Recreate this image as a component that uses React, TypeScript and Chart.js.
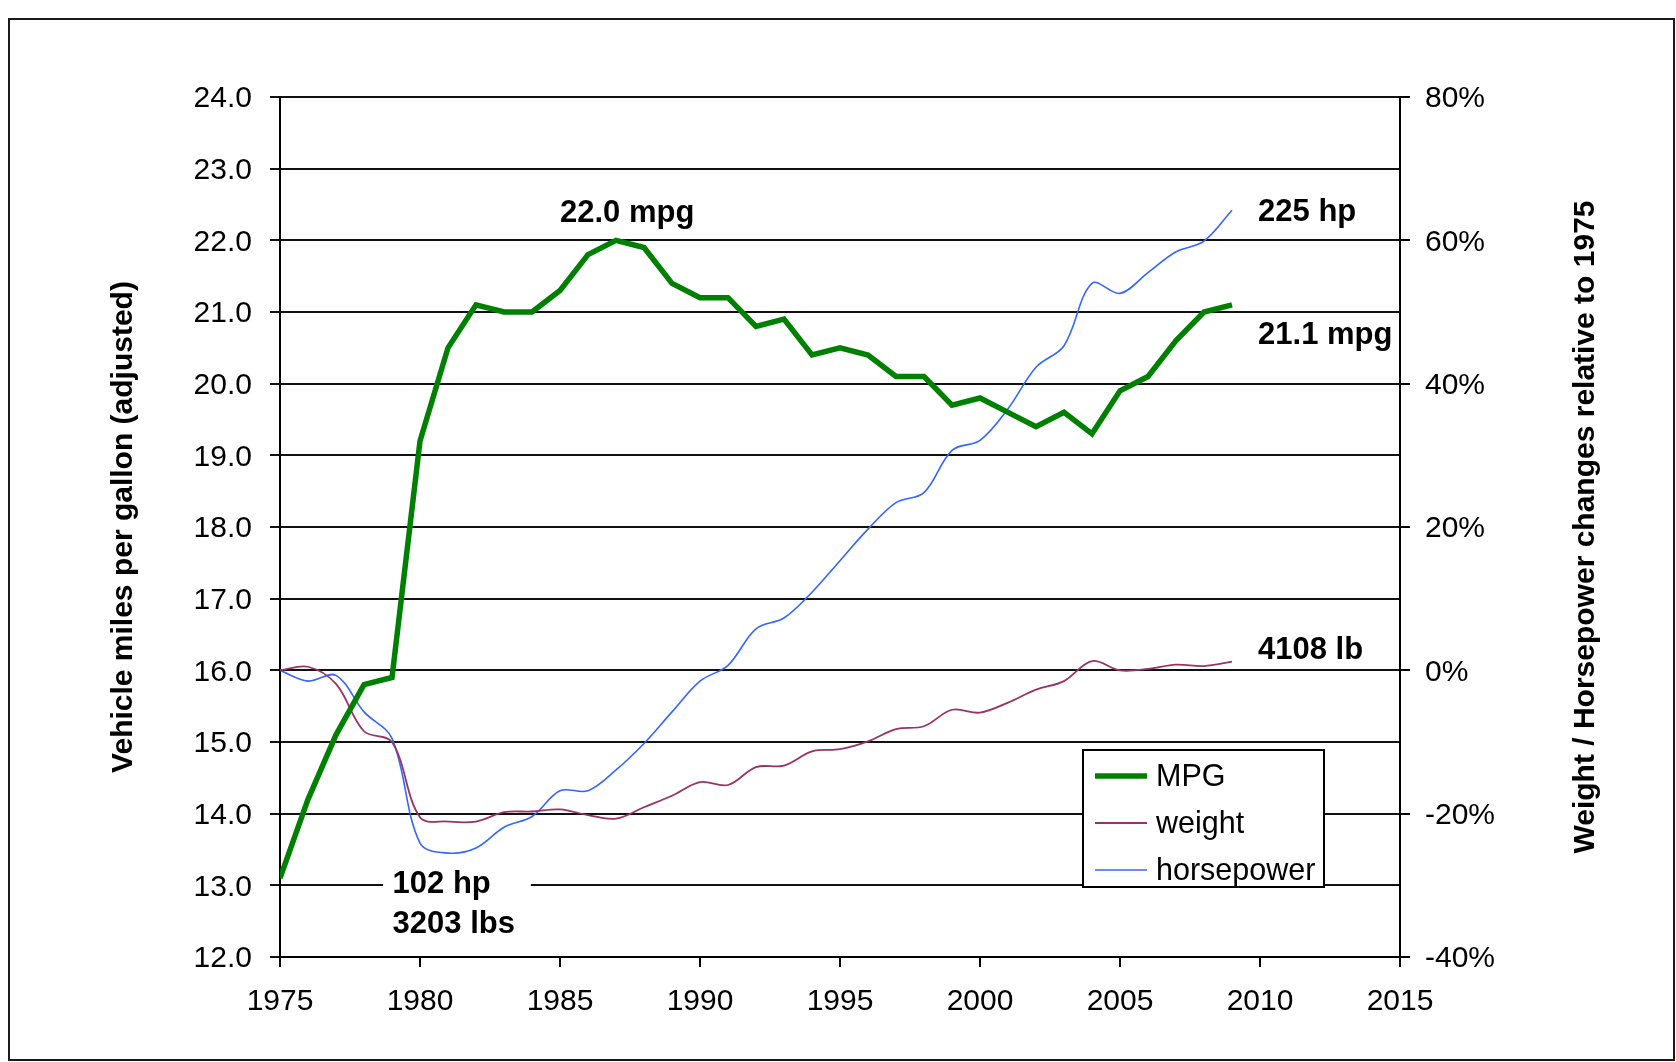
import React, { useEffect, useRef } from "react";
import { Chart, registerables } from "chart.js";

Chart.register(...registerables);

const FONT = "'Liberation Sans', Arial, Helvetica, sans-serif";

// Model years
const years = [
  1975, 1976, 1977, 1978, 1979, 1980, 1981, 1982, 1983, 1984,
  1985, 1986, 1987, 1988, 1989, 1990, 1991, 1992, 1993, 1994,
  1995, 1996, 1997, 1998, 1999, 2000, 2001, 2002, 2003, 2004,
  2005, 2006, 2007, 2008, 2009,
];

// Vehicle miles per gallon (adjusted) - left axis
const mpg = [
  13.1, 14.2, 15.1, 15.8, 15.9, 19.2, 20.5, 21.1, 21.0, 21.0,
  21.3, 21.8, 22.0, 21.9, 21.4, 21.2, 21.2, 20.8, 20.9, 20.4,
  20.5, 20.4, 20.1, 20.1, 19.7, 19.8, 19.6, 19.4, 19.6, 19.3,
  19.9, 20.1, 20.6, 21.0, 21.1,
];

// Weight change relative to 1975 (%) - right axis
const weightPct = [
  0.0, 0.5, -1.9, -8.5, -10.0, -20.5, -21.1, -21.1, -19.8, -19.7,
  -19.4, -20.2, -20.7, -19.1, -17.5, -15.6, -16.0, -13.5, -13.3, -11.3,
  -11.0, -9.9, -8.2, -7.8, -5.5, -5.9, -4.5, -2.7, -1.5, 1.3,
  0.0, 0.2, 0.8, 0.6, 1.2,
];

// Horsepower change relative to 1975 (%) - right axis
const hpPct = [
  0.0, -1.5, -0.7, -5.8, -9.5, -24.1, -25.5, -24.8, -21.9, -20.4,
  -16.8, -16.8, -13.9, -10.2, -5.8, -1.5, 0.7, 5.8, 7.3, 10.9,
  15.3, 19.7, 23.4, 24.8, 30.7, 32.1, 36.5, 42.3, 45.3, 54.0,
  52.6, 55.5, 58.4, 59.9, 64.2,
];

const seriesLabels = ["MPG", "weight", "horsepower"];
const seriesColors = ["#008000", "#993366", "#3366FF"];
const seriesWidths = [5.5, 1.8, 1.6];

const xRange = [1975, 2015];
const mpgRange = [12, 24];
const pctRange = [-40, 80];

const leftTitle = "Vehicle miles per gallon (adjusted)";
const rightTitle = "Weight / Horsepower changes relative to 1975";

// Callout texts anchored in data space (year, mpg-scale value)
const callouts = [
  { text: "22.0 mpg", x: 1985.0, y: 22.38 },
  { text: "225 hp", x: 2009.93, y: 22.385 },
  { text: "21.1 mpg", x: 2009.93, y: 20.675 },
  { text: "4108 lb", x: 2009.93, y: 16.275 },
];
const baseCallout = [
  { text: "102 hp", x: 1979.02, y: 13.01 },
  { text: "3203 lbs", x: 1979.02, y: 12.45 },
];
const baseBox = { x0: 1978.68, x1: 1983.96, y0: 13.32, y1: 12.12 };

// put label on a second line of a tiny line-height so it sits ~2px lower
const nudge = (s: string) => ["", s];

const decorPlugin = {
  id: "decor",
  beforeDatasetsDraw(chart: any) {
    const ctx = chart.ctx;
    const xs = chart.scales.x;
    const ys = chart.scales.y;
    ctx.save();
    const bx0 = xs.getPixelForValue(baseBox.x0);
    const bx1 = xs.getPixelForValue(baseBox.x1);
    const by0 = ys.getPixelForValue(baseBox.y0);
    const by1 = ys.getPixelForValue(baseBox.y1);
    ctx.fillStyle = "#ffffff";
    ctx.fillRect(bx0, by0, bx1 - bx0, by1 - by0);
    ctx.fillStyle = "#000";
    ctx.font = `bold 31px ${FONT}`;
    ctx.textAlign = "left";
    ctx.textBaseline = "middle";
    for (const c of baseCallout) {
      ctx.fillText(c.text, xs.getPixelForValue(c.x), ys.getPixelForValue(c.y));
    }
    ctx.restore();
  },
  afterDatasetsDraw(chart: any) {
    const ctx = chart.ctx;
    const xs = chart.scales.x;
    const ys = chart.scales.y;
    const area = chart.chartArea;
    ctx.save();
    ctx.fillStyle = "#000";
    ctx.font = `bold 31px ${FONT}`;
    ctx.textAlign = "left";
    ctx.textBaseline = "middle";
    for (const c of callouts) {
      ctx.fillText(c.text, xs.getPixelForValue(c.x), ys.getPixelForValue(c.y));
    }

    // axis titles (both read bottom-to-top)
    ctx.font = `bold 30px ${FONT}`;
    const midY = (area.top + area.bottom) / 2;
    ctx.textAlign = "center";
    ctx.save();
    ctx.translate(124, midY);
    ctx.rotate(-Math.PI / 2);
    ctx.fillText(leftTitle, 0, 0);
    ctx.restore();
    ctx.save();
    ctx.translate(1586, midY);
    ctx.rotate(-Math.PI / 2);
    ctx.fillText(rightTitle, 0, 0);
    ctx.restore();

    // legend
    const lx = 1083, ly = 750, lw = 241, lh = 137;
    ctx.fillStyle = "#fff";
    ctx.fillRect(lx, ly, lw, lh);
    ctx.strokeStyle = "#000";
    ctx.lineWidth = 2;
    ctx.strokeRect(lx, ly, lw, lh);
    ctx.font = `30.5px ${FONT}`;
    ctx.textAlign = "left";
    ctx.textBaseline = "middle";
    chart.data.datasets.forEach((ds: any, i: number) => {
      const y = ly + 26 + i * 47;
      ctx.strokeStyle = ds.borderColor;
      ctx.lineWidth = ds.borderWidth;
      ctx.beginPath();
      ctx.moveTo(lx + 12, y);
      ctx.lineTo(lx + 64, y);
      ctx.stroke();
      ctx.fillStyle = "#000";
      ctx.fillText(ds.label, lx + 73, y + 2);
    });

    // outer frame
    ctx.strokeStyle = "#1a1a1a";
    ctx.lineWidth = 2;
    ctx.strokeRect(9, 19, 1665, 1041);
    ctx.restore();
  },
};

export default function App() {
  const ref = useRef<HTMLCanvasElement | null>(null);

  useEffect(() => {
    if (!ref.current) return;
    const mk = (vals: number[]) => years.map((yr, i) => ({ x: yr, y: vals[i] }));
    const chart = new Chart(ref.current, {
      type: "line",
      data: {
        datasets: [
          {
            label: seriesLabels[0],
            data: mk(mpg),
            borderColor: seriesColors[0],
            borderWidth: seriesWidths[0],
            pointRadius: 0,
            tension: 0,
            yAxisID: "y",
          },
          {
            label: seriesLabels[1],
            data: mk(weightPct),
            borderColor: seriesColors[1],
            borderWidth: seriesWidths[1],
            pointRadius: 0,
            tension: 0.35,
            yAxisID: "y2",
          },
          {
            label: seriesLabels[2],
            data: mk(hpPct),
            borderColor: seriesColors[2],
            borderWidth: seriesWidths[2],
            pointRadius: 0,
            tension: 0.35,
            yAxisID: "y2",
          },
        ],
      },
      options: {
        animation: false,
        responsive: false,
        devicePixelRatio: 1,
        layout: { padding: { top: 97, left: 0, right: 0, bottom: 0 } },
        plugins: {
          legend: { display: false },
          tooltip: { enabled: false },
        },
        font: { family: FONT },
        scales: {
          x: {
            type: "linear",
            min: xRange[0],
            max: xRange[1],
            afterFit: (s: any) => { s.height = 105; },
            ticks: {
              stepSize: 5,
              color: "#000",
              padding: 17,
              font: { family: FONT, size: 30 },
              callback: (v: any) => String(v),
            },
            grid: {
              drawOnChartArea: false,
              drawTicks: true,
              tickLength: 10,
              color: "#000",
              lineWidth: 2,
            },
            border: { display: true, color: "#000", width: 2 },
          },
          y: {
            type: "linear",
            position: "left",
            min: mpgRange[0],
            max: mpgRange[1],
            afterFit: (s: any) => { s.width = 280; },
            ticks: {
              stepSize: 1,
              color: "#000",
              padding: 18,
              autoSkip: false,
              font: { family: FONT, size: 30, lineHeight: "4px" },
              callback: (v: any) => nudge(Number(v).toFixed(1)),
            },
            grid: {
              drawOnChartArea: true,
              drawTicks: true,
              tickLength: 10,
              color: "#111",
              lineWidth: 2,
            },
            border: { display: true, color: "#000", width: 2 },
          },
          y2: {
            type: "linear",
            position: "right",
            min: pctRange[0],
            max: pctRange[1],
            afterFit: (s: any) => { s.width = 276; },
            ticks: {
              stepSize: 20,
              color: "#000",
              padding: 15,
              autoSkip: false,
              font: { family: FONT, size: 30, lineHeight: "4px" },
              callback: (v: any) => nudge(`${v}%`),
            },
            grid: {
              drawOnChartArea: false,
              drawTicks: true,
              tickLength: 10,
              color: "#000",
              lineWidth: 2,
            },
            border: { display: true, color: "#000", width: 2 },
          },
        },
      } as any,
      plugins: [decorPlugin],
    });
    return () => chart.destroy();
  }, []);

  return (
    <div style={{ position: "absolute", left: 0, top: 0, width: 1676, height: 1062, background: "#fff" }}>
      <canvas ref={ref} width={1676} height={1062} style={{ display: "block" }} />
    </div>
  );
}
